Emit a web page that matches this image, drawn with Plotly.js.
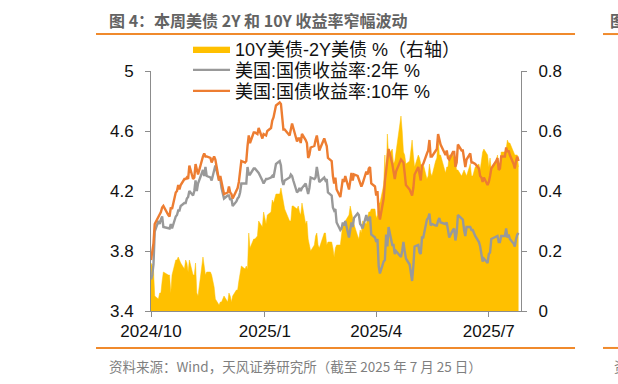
<!DOCTYPE html>
<html><head><meta charset="utf-8">
<script src="https://cdn.plot.ly/plotly-3.0.1.min.js"></script>
<style>html,body{margin:0;padding:0;background:#fff}#chart{width:618px;height:384px}</style>
</head><body><div id="chart"></div>
<script>
const dates = [
'2024-10-01','2024-10-02','2024-10-03','2024-10-04','2024-10-07','2024-10-08','2024-10-09','2024-10-10','2024-10-11','2024-10-15','2024-10-16','2024-10-17','2024-10-18','2024-10-21','2024-10-22','2024-10-23','2024-10-24','2024-10-25','2024-10-28','2024-10-29','2024-10-30','2024-10-31',
'2024-11-01','2024-11-04','2024-11-05','2024-11-06','2024-11-07','2024-11-08','2024-11-12','2024-11-13','2024-11-14','2024-11-15','2024-11-18','2024-11-19','2024-11-20','2024-11-21','2024-11-22','2024-11-25','2024-11-26','2024-11-27','2024-11-29',
'2024-12-02','2024-12-03','2024-12-04','2024-12-05','2024-12-06','2024-12-09','2024-12-10','2024-12-11','2024-12-12','2024-12-13','2024-12-16','2024-12-17','2024-12-18','2024-12-19','2024-12-20','2024-12-23','2024-12-24','2024-12-26','2024-12-27','2024-12-30','2024-12-31',
'2025-01-02','2025-01-03','2025-01-06','2025-01-07','2025-01-08','2025-01-10','2025-01-13','2025-01-14','2025-01-15','2025-01-16','2025-01-17','2025-01-21','2025-01-22','2025-01-23','2025-01-24','2025-01-27','2025-01-28','2025-01-29','2025-01-30','2025-01-31',
'2025-02-03','2025-02-04','2025-02-05','2025-02-06','2025-02-07','2025-02-10','2025-02-11','2025-02-12','2025-02-13','2025-02-14','2025-02-18','2025-02-19','2025-02-20','2025-02-21','2025-02-24','2025-02-25','2025-02-26','2025-02-27','2025-02-28',
'2025-03-03','2025-03-04','2025-03-05','2025-03-06','2025-03-07','2025-03-10','2025-03-11','2025-03-12','2025-03-13','2025-03-14','2025-03-17','2025-03-18','2025-03-19','2025-03-20','2025-03-21','2025-03-24','2025-03-25','2025-03-26','2025-03-27','2025-03-28','2025-03-31',
'2025-04-01','2025-04-02','2025-04-03','2025-04-04','2025-04-07','2025-04-08','2025-04-09','2025-04-10','2025-04-11','2025-04-14','2025-04-15','2025-04-16','2025-04-17','2025-04-21','2025-04-22','2025-04-23','2025-04-24','2025-04-25','2025-04-28','2025-04-29','2025-04-30',
'2025-05-01','2025-05-02','2025-05-05','2025-05-06','2025-05-07','2025-05-08','2025-05-09','2025-05-12','2025-05-13','2025-05-14','2025-05-15','2025-05-16','2025-05-19','2025-05-20','2025-05-21','2025-05-22','2025-05-23','2025-05-27','2025-05-28','2025-05-29','2025-05-30',
'2025-06-02','2025-06-03','2025-06-04','2025-06-05','2025-06-06','2025-06-09','2025-06-10','2025-06-11','2025-06-12','2025-06-13','2025-06-16','2025-06-17','2025-06-18','2025-06-20','2025-06-23','2025-06-24','2025-06-25','2025-06-26','2025-06-27','2025-06-30',
'2025-07-01','2025-07-02','2025-07-03','2025-07-07','2025-07-08','2025-07-09','2025-07-10','2025-07-11','2025-07-14','2025-07-15','2025-07-16','2025-07-17','2025-07-18','2025-07-21','2025-07-22','2025-07-23','2025-07-24','2025-07-25'
];
const yield10 = [
3.74,3.79,3.85,3.98,4.03,4.04,4.06,4.09,4.10,4.04,4.03,4.09,4.08,4.19,4.20,4.24,4.21,4.24,4.28,4.28,4.29,4.28,
4.37,4.28,4.29,4.38,4.33,4.31,4.43,4.45,4.43,4.43,4.42,4.39,4.41,4.43,4.41,4.27,4.30,4.25,4.18,
4.19,4.23,4.19,4.18,4.15,4.20,4.22,4.26,4.32,4.40,4.39,4.40,4.50,4.57,4.52,4.59,4.59,4.58,4.62,4.55,4.58,
4.57,4.60,4.62,4.67,4.69,4.77,4.79,4.78,4.66,4.61,4.61,4.57,4.61,4.65,4.62,4.53,4.55,4.55,4.52,4.58,
4.54,4.52,4.42,4.44,4.49,4.50,4.54,4.57,4.52,4.47,4.55,4.53,4.50,4.42,4.40,4.30,4.25,4.29,4.21,
4.16,4.22,4.28,4.26,4.30,4.21,4.28,4.32,4.27,4.31,4.30,4.28,4.25,4.23,4.25,4.33,4.31,4.35,4.36,4.25,4.23,
4.17,4.20,4.06,4.01,4.15,4.26,4.34,4.42,4.48,4.38,4.33,4.28,4.33,4.41,4.40,4.39,4.32,4.24,4.21,4.19,4.17,
4.22,4.31,4.36,4.30,4.27,4.37,4.38,4.45,4.47,4.54,4.43,4.43,4.47,4.48,4.58,4.54,4.51,4.44,4.47,4.42,4.41,
4.46,4.46,4.36,4.39,4.51,4.47,4.47,4.41,4.36,4.41,4.45,4.39,4.39,4.38,4.35,4.30,4.29,4.26,4.29,4.24,
4.26,4.30,4.35,4.40,4.42,4.34,4.35,4.43,4.43,4.49,4.46,4.47,4.44,4.38,4.35,4.40,4.43,4.40
];
const yield2 = [
3.61,3.64,3.71,3.93,4.00,3.98,4.01,4.03,3.96,3.95,3.95,3.98,3.95,4.03,4.04,4.07,4.07,4.10,4.12,4.12,4.15,4.16,
4.20,4.17,4.20,4.27,4.20,4.25,4.34,4.30,4.36,4.30,4.29,4.27,4.31,4.35,4.37,4.27,4.28,4.22,4.15,
4.17,4.17,4.14,4.15,4.10,4.13,4.15,4.16,4.19,4.25,4.25,4.25,4.36,4.31,4.31,4.35,4.35,4.33,4.32,4.27,4.25,
4.28,4.28,4.29,4.30,4.29,4.38,4.40,4.37,4.27,4.24,4.27,4.29,4.31,4.30,4.27,4.19,4.20,4.22,4.20,4.22,
4.25,4.22,4.18,4.22,4.29,4.28,4.29,4.36,4.30,4.26,4.29,4.27,4.28,4.19,4.17,4.09,4.07,4.08,3.99,
3.94,3.95,3.99,3.97,4.00,3.89,3.93,3.99,3.96,4.02,4.05,4.04,3.98,3.97,3.95,4.04,4.00,4.02,4.03,3.91,3.89,
3.86,3.88,3.70,3.65,3.73,3.74,3.91,3.83,3.96,3.84,3.84,3.78,3.80,3.76,3.80,3.86,3.80,3.75,3.71,3.66,3.60,
3.70,3.83,3.84,3.79,3.78,3.89,3.89,4.01,4.02,4.05,3.97,3.98,3.97,3.97,4.00,4.02,3.99,3.98,3.99,3.94,3.89,
3.94,3.95,3.87,3.92,4.04,4.02,4.01,3.94,3.90,3.96,3.96,3.94,3.94,3.90,3.86,3.83,3.79,3.73,3.75,3.72,
3.78,3.79,3.88,3.90,3.90,3.86,3.86,3.90,3.90,3.95,3.89,3.91,3.88,3.85,3.83,3.88,3.91,3.92
];
const spread = [
0.16,0.15,0.14,0.05,0.04,0.06,0.06,0.10,0.13,0.12,0.12,0.06,0.12,0.17,0.17,0.18,0.17,0.16,0.14,0.17,0.16,0.13,
0.17,0.12,0.12,0.16,0.06,0.05,0.18,0.15,0.12,0.13,0.13,0.12,0.10,0.08,0.04,0.02,0.03,0.03,0.05,
0.03,0.06,0.05,0.03,0.05,0.07,0.07,0.10,0.13,0.15,0.14,0.15,0.14,0.26,0.21,0.24,0.24,0.25,0.30,0.28,0.33,
0.29,0.32,0.33,0.37,0.36,0.39,0.39,0.41,0.39,0.37,0.34,0.30,0.30,0.35,0.35,0.34,0.35,0.33,0.32,0.36,
0.29,0.30,0.24,0.22,0.20,0.22,0.25,0.26,0.22,0.21,0.26,0.26,0.22,0.23,0.23,0.21,0.18,0.21,0.22,
0.22,0.27,0.29,0.29,0.30,0.32,0.35,0.33,0.31,0.29,0.25,0.24,0.27,0.26,0.30,0.29,0.31,0.33,0.33,0.34,0.34,
0.31,0.32,0.36,0.36,0.42,0.52,0.43,0.59,0.52,0.54,0.49,0.50,0.53,0.65,0.60,0.53,0.52,0.49,0.50,0.53,0.57,
0.52,0.48,0.52,0.51,0.49,0.48,0.49,0.44,0.45,0.49,0.46,0.45,0.50,0.51,0.58,0.52,0.52,0.46,0.48,0.48,0.52,
0.52,0.51,0.49,0.47,0.47,0.45,0.46,0.47,0.46,0.45,0.49,0.45,0.45,0.48,0.49,0.47,0.50,0.53,0.54,0.52,
0.48,0.51,0.47,0.50,0.52,0.48,0.49,0.53,0.53,0.54,0.57,0.56,0.56,0.53,0.52,0.52,0.52,0.48
];
const seriesNames = ['10Y美债-2Y美债 %（右轴）', '美国:国债收益率:2年 %', '美国:国债收益率:10年 %'];
const xTickVals = ['2024-10-01','2025-01-01','2025-04-01','2025-07-01'];
const xTickText = ['2024/10','2025/1','2025/4','2025/7'];
const leftTickVals = [3.4,3.8,4.2,4.6,5];
const leftTickText = ['3.4','3.8','4.2','4.6','5'];
const rightTickVals = [0,0.2,0.4,0.6,0.8];
const rightTickText = ['0','0.2','0.4','0.6','0.8'];
const titleText = '图 4：本周美债 2Y 和 10Y 收益率窄幅波动';
const sourceText = '资料来源：Wind，天风证券研究所（截至 2025 年 7 月 25 日）';

const axisGray = '#8c8c8c';
const traces = [
  {x: dates, y: spread, name: seriesNames[0], type: 'scatter', mode: 'lines',
   fill: 'tozeroy', fillcolor: '#FFC000', line: {color: '#FFC000', width: 0.5},
   xaxis: 'x', yaxis: 'y', legend: 'legend', hoverinfo: 'skip'},
  {x: dates, y: yield2, name: seriesNames[1], type: 'scatter', mode: 'lines',
   line: {color: '#999999', width: 2.4}, xaxis: 'x', yaxis: 'y2', legend: 'legend2'},
  {x: dates, y: yield10, name: seriesNames[2], type: 'scatter', mode: 'lines',
   line: {color: '#ED7D31', width: 2.4}, xaxis: 'x', yaxis: 'y2', legend: 'legend3'}
];
const fontFam = 'Liberation Sans, Arial, Noto Sans CJK SC, sans-serif';
const axisCommon = {ticks: 'outside', ticklen: 5, tickcolor: axisGray, showline: true, linecolor: axisGray,
                    linewidth: 1, showgrid: false, zeroline: false, tickfont: {size: 17, color: '#111111'}};
function legendAt(yPaper) {
  return {x: 0.1, y: yPaper, xanchor: 'left', yanchor: 'top', bgcolor: 'rgba(0,0,0,0)', itemwidth: 37,
          font: {size: 18, family: fontFam, color: '#111111'}, tracegroupgap: 0};
}
const layout = {
  width: 618, height: 384,
  margin: {l: 151, r: 97, t: 71, b: 73, pad: 0},
  paper_bgcolor: '#ffffff', plot_bgcolor: 'rgba(0,0,0,0)',
  font: {family: fontFam, size: 17, color: '#111111'},
  showlegend: true,
  legend: legendAt(1.168),
  legend2: legendAt(1.0805),
  legend3: legendAt(0.993),
  xaxis: Object.assign({type: 'date', range: ['2024-10-01', '2025-07-27'], tickvals: xTickVals, ticktext: xTickText}, axisCommon),
  yaxis: Object.assign({side: 'right', range: [0, 0.8], tickvals: rightTickVals, ticktext: rightTickText, ticklabelstandoff: 8}, axisCommon),
  yaxis2: Object.assign({side: 'left', overlaying: 'y', range: [3.4, 5], tickvals: leftTickVals, ticktext: leftTickText, ticklabelstandoff: 8}, axisCommon),
  shapes: [
    {type: 'line', xref: 'paper', yref: 'paper', x0: -0.1486, x1: 1.146, y0: 1.154, y1: 1.154, line: {color: '#F08A2C', width: 2}},
    {type: 'line', xref: 'paper', yref: 'paper', x0: -0.1486, x1: 1.146, y0: -0.154, y1: -0.154, line: {color: '#F08A2C', width: 2}},
    {type: 'line', xref: 'paper', yref: 'paper', x0: 1.2216, x1: 1.30, y0: 1.154, y1: 1.154, line: {color: '#F08A2C', width: 2}},
    {type: 'line', xref: 'paper', yref: 'paper', x0: 1.2216, x1: 1.30, y0: -0.154, y1: -0.154, line: {color: '#F08A2C', width: 2}}
  ],
  annotations: [
    {xref: 'paper', yref: 'paper', x: -0.119, y: 1.2125, xanchor: 'left', yanchor: 'middle', showarrow: false,
     text: '<b>' + titleText + '</b>', font: {family: 'Noto Sans CJK SC, sans-serif', size: 16, color: '#636363'}},
    {xref: 'paper', yref: 'paper', x: -0.119, y: -0.229, xanchor: 'left', yanchor: 'middle', showarrow: false,
     text: sourceText, font: {family: 'Noto Sans CJK SC, sans-serif', size: 13.5, color: '#7f7f7f'}},
    {xref: 'paper', yref: 'paper', x: 1.235, y: 1.2125, xanchor: 'left', yanchor: 'middle', showarrow: false,
     text: '<b>图</b>', font: {family: 'Noto Sans CJK SC, sans-serif', size: 16, color: '#636363'}},
    {xref: 'paper', yref: 'paper', x: 1.246, y: -0.229, xanchor: 'left', yanchor: 'middle', showarrow: false,
     text: '资', font: {family: 'Noto Sans CJK SC, sans-serif', size: 13.5, color: '#7f7f7f'}}
  ]
};
Plotly.newPlot('chart', traces, layout, {displayModeBar: false, staticPlot: true});
</script>
</body></html>
